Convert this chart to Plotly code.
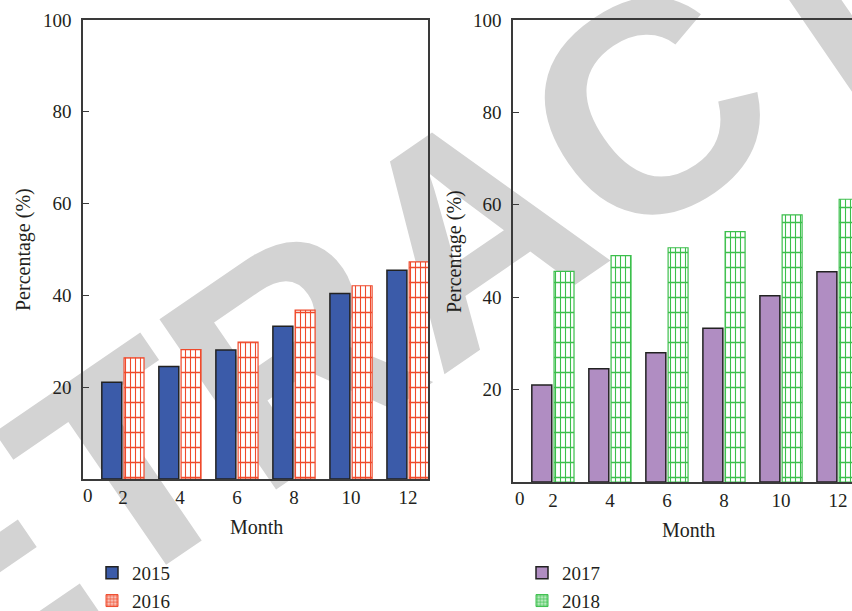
import plotly.graph_objects as go

# Monthly percentages, two years per panel
months = [2, 4, 6, 8, 10, 12]
pct_2015 = [21.1, 24.5, 28.1, 33.3, 40.4, 45.5]
pct_2016 = [26.4, 28.2, 29.8, 36.8, 42.1, 47.3]
pct_2017 = [21.0, 24.5, 28.0, 33.3, 40.3, 45.5]
pct_2018 = [45.6, 49.0, 50.7, 54.2, 57.8, 61.2]
x_ticks = [2, 4, 6, 8, 10, 12]
y_ticks = [20, 40, 60, 80, 100]

W, H = 852, 611
SERIF = "Liberation Serif"
INK = "#231f20"
AXIS = "#3a3a3a"

BLUE = "#3b5ba9"
RED = "#ef4a2c"
PURPLE = "#b08dc2"
GREEN = "#3cbf4c"

BAR_W = 0.70
OFF_A = -0.74
OFF_B = 0.04


def px_x(p):
    return p / W


def px_y(p):
    return 1 - p / H


fig = go.Figure()


def solid_bars(y, name, color, xa, ya, legend):
    fig.add_trace(go.Bar(
        x=months, y=y, name=name, xaxis=xa, yaxis=ya, legend=legend,
        width=BAR_W, offset=OFF_A,
        marker=dict(color=color, line=dict(color="#222222", width=1.5)),
    ))


def grid_bars(y, name, color, light, xa, ya, legend):
    # vertical hatch with the bar outline
    fig.add_trace(go.Bar(
        x=months, y=y, name=name, xaxis=xa, yaxis=ya, showlegend=False,
        width=BAR_W, offset=OFF_B,
        marker=dict(color="white", line=dict(color=color, width=1.2),
                    pattern=dict(shape="|", fgcolor=color, bgcolor="white",
                                 size=5, solidity=0.22, fillmode="replace")),
    ))
    # horizontal rungs on top of the hatch
    fig.add_trace(go.Bar(
        x=months, y=y, name=name, xaxis=xa, yaxis=ya, showlegend=False,
        width=BAR_W, offset=OFF_B, hoverinfo="skip",
        marker=dict(color="rgba(0,0,0,0)", line=dict(width=0),
                    pattern=dict(shape="-", fgcolor=color, bgcolor="rgba(0,0,0,0)",
                                 size=15, solidity=0.1, fillmode="replace")),
    ))
    # legend entry with a fine grid swatch
    fig.add_trace(go.Bar(
        x=[None], y=[None], name=name, xaxis=xa, yaxis=ya, legend=legend,
        marker=dict(color=color, line=dict(color=color, width=1),
                    pattern=dict(shape="+", fgcolor=color, bgcolor=light,
                                 size=4, solidity=0.35, fillmode="replace")),
    ))


solid_bars(pct_2015, "2015", BLUE, "x", "y", "legend")
grid_bars(pct_2016, "2016", RED, "#f9c2b8", "x", "y", "legend")
solid_bars(pct_2017, "2017", PURPLE, "x2", "y2", "legend2")
grid_bars(pct_2018, "2018", GREEN, "#b9ebbf", "x2", "y2", "legend2")

xcommon = dict(
    tickvals=x_ticks, ticktext=[str(v) for v in x_ticks],
    showline=True, linecolor=AXIS, linewidth=1.6, ticks="",
    showgrid=False, zeroline=False, automargin=False,
    tickfont=dict(family=SERIF, size=19, color=INK),
)
ycommon = dict(
    range=[0, 100], tickvals=y_ticks,
    showline=True, linecolor=AXIS, linewidth=1.6,
    ticks="inside", ticklen=6, tickwidth=1.3, tickcolor=AXIS,
    showgrid=False, zeroline=False, automargin=False,
    ticklabelstandoff=6,
    tickfont=dict(family=SERIF, size=19, color=INK),
)

legend_style = dict(xanchor="left", yanchor="top", bgcolor="rgba(0,0,0,0)",
                    traceorder="normal", tracegroupgap=0,
                    font=dict(family=SERIF, size=19, color=INK))

fig.update_layout(
    width=W, height=H,
    margin=dict(l=0, r=0, t=0, b=0, autoexpand=False),
    paper_bgcolor="white", plot_bgcolor="rgba(0,0,0,0)",
    barmode="overlay",
    showlegend=True,
    xaxis=dict(domain=[px_x(83), px_x(428)], range=[0.6, 12.7], mirror=True, anchor="y", **xcommon),
    yaxis=dict(domain=[px_y(479), px_y(20)], anchor="x", mirror=True, **ycommon),
    xaxis2=dict(domain=[px_x(513), 1.0], range=[0.6, 12.49], mirror=True, anchor="y2", **xcommon),
    yaxis2=dict(domain=[px_y(482), px_y(20)], anchor="x2", mirror=False, **ycommon),
    legend=dict(x=px_x(92), y=px_y(554), **legend_style),
    legend2=dict(x=px_x(522), y=px_y(554), **legend_style),
)

# axis titles and the origin label
title_font = dict(family=SERIF, size=20, color=INK)
tick_font = dict(family=SERIF, size=19, color=INK)


def label(text, x, y, angle=0, font=title_font):
    fig.add_annotation(text=text, x=px_x(x), y=px_y(y), xref="paper", yref="paper",
                       xanchor="center", yanchor="middle", textangle=angle,
                       showarrow=False, font=font)


label("Percentage (%)", 23, 250, -90)
label("Percentage (%)", 454, 252, -90)
label("Month", 256, 527)
label("Month", 688, 530)
label("0", 88, 495, font=tick_font)
label("0", 520, 498, font=tick_font)

# diagonal watermark behind the plots
cx, cy, dx, dy = 548, 350, 100, 68.5
fig.add_shape(
    type="line", xref="paper", yref="paper", layer="below",
    x0=px_x(cx - dx), y0=px_y(cy + dy), x1=px_x(cx + dx), y1=px_y(cy - dy),
    line=dict(width=0, color="rgba(0,0,0,0)"),
    label=dict(text="RETRACTED", textangle=-34.4, textposition="middle",
               font=dict(family="Liberation Sans", size=300, color="#d3d3d3", weight="bold")),
)

fig.write_html("out.html")
